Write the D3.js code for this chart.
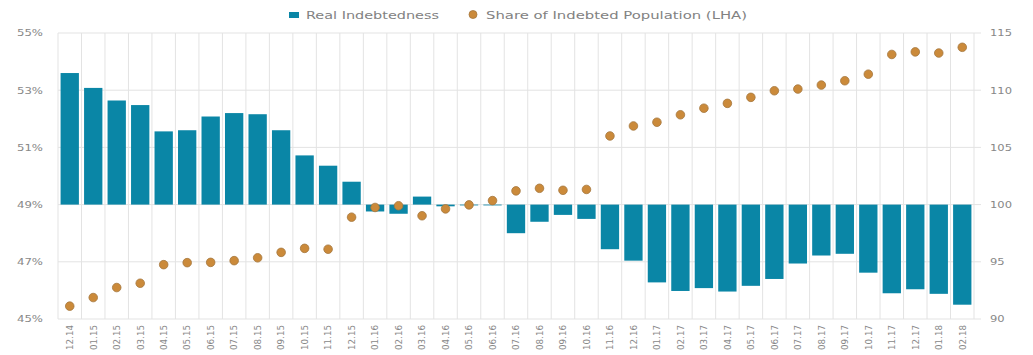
<!DOCTYPE html>
<html>
<head>
<meta charset="utf-8">
<script src="https://cdn.jsdelivr.net/npm/d3@7"></script>
<style>
  html, body { margin: 0; padding: 0; background: #fff; }
  svg { display: block; }
  text { font-family: "DejaVu Sans", Verdana, sans-serif; }
</style>
</head>
<body>
<svg id="chart" width="1033" height="355"></svg>
<script>
// Months (mm.yy)
const months = [
  "12.14",
  "01.15","02.15","03.15","04.15","05.15","06.15","07.15","08.15","09.15","10.15","11.15","12.15",
  "01.16","02.16","03.16","04.16","05.16","06.16","07.16","08.16","09.16","10.16","11.16","12.16",
  "01.17","02.17","03.17","04.17","05.17","06.17","07.17","08.17","09.17","10.17","11.17","12.17",
  "01.18","02.18"
];

// Real indebtedness index (right axis, base 100)
const realIndebtedness = [
  111.5,
  110.2, 109.1, 108.7, 106.4, 106.5, 107.7, 108.0, 107.9, 106.5, 104.3, 103.4, 102.0,
  99.4, 99.2, 100.7, 99.85, 100.0, 100.0, 97.5, 98.5, 99.1, 98.75, 96.1, 95.1,
  93.2, 92.45, 92.7, 92.4, 92.9, 93.5, 94.85, 95.55, 95.7, 94.05, 92.25, 92.6,
  92.2, 91.25
];

// Share of indebted population, % (left axis)
const indebtedShare = [
  45.45,
  45.75, 46.1, 46.25, 46.9, 46.97, 46.98, 47.04, 47.14, 47.33, 47.47, 47.44, 48.56,
  48.9, 48.96, 48.61, 48.85, 48.99, 49.14, 49.48, 49.57, 49.5, 49.53, 51.4, 51.75,
  51.88, 52.14, 52.37, 52.54, 52.75, 52.98, 53.04, 53.18, 53.33, 53.56, 54.25, 54.34,
  54.3, 54.5
];

const leftTicks = [45, 47, 49, 51, 53, 55];
const rightTicks = [90, 95, 100, 105, 110, 115];

const seriesNames = ["Real Indebtedness", "Share of Indebted Population (LHA)"];

const barColor = "#0a86a6";
const dotFill = "#cb8a3a";
const dotStroke = "#a4773f";
const gridColor = "#e3e3e3";
const labelColor = "#888888";
const legendColor = "#828282";

const plot = { left: 58, right: 974, top: 33, bottom: 319 };

const svg = d3.select("#chart");

// Widen text glyphs horizontally by a factor
function widen(sel, factor) {
  sel.each(function () {
    const w = this.getComputedTextLength();
    d3.select(this).attr("textLength", w * factor).attr("lengthAdjust", "spacingAndGlyphs");
  });
}

const x = d3.scaleBand()
  .domain(months)
  .range([plot.left, plot.right])
  .paddingInner(0.22)
  .paddingOuter(0.11);

const yLeft = d3.scaleLinear().domain([45, 55]).range([plot.bottom, plot.top]);
const yRight = d3.scaleLinear().domain([90, 115]).range([plot.bottom, plot.top]);

// Horizontal gridlines (shared by both axes), extended slightly past the right edge
svg.append("g")
  .selectAll("line")
  .data(leftTicks)
  .join("line")
  .attr("x1", plot.left)
  .attr("x2", plot.right + 7)
  .attr("y1", d => yLeft(d))
  .attr("y2", d => yLeft(d))
  .attr("stroke", gridColor)
  .attr("stroke-width", 1);

// Vertical gridlines between months
const step = x.step();
const boundaries = months.map(m => x(m) - step * x.paddingInner() / 2);
boundaries.push(plot.right);
boundaries[0] = plot.left;
svg.append("g")
  .selectAll("line")
  .data(boundaries)
  .join("line")
  .attr("x1", d => d)
  .attr("x2", d => d)
  .attr("y1", plot.top)
  .attr("y2", plot.bottom)
  .attr("stroke", gridColor)
  .attr("stroke-width", 1);

// Bars around the 100 baseline
svg.append("g")
  .selectAll("rect")
  .data(months.map((m, i) => ({ m, v: realIndebtedness[i] })))
  .join("rect")
  .attr("x", d => x(d.m))
  .attr("width", x.bandwidth())
  .attr("y", d => Math.min(yRight(d.v), yRight(100)))
  .attr("height", d => Math.max(0.8, Math.abs(yRight(d.v) - yRight(100))))
  .attr("fill", barColor);

// Dots for share of indebted population
svg.append("g")
  .selectAll("circle")
  .data(months.map((m, i) => ({ m, v: indebtedShare[i] })))
  .join("circle")
  .attr("cx", d => x(d.m) + x.bandwidth() / 2)
  .attr("cy", d => yLeft(d.v))
  .attr("r", 4.3)
  .attr("fill", dotFill)
  .attr("stroke", dotStroke)
  .attr("stroke-width", 0.8);

// Left axis (percent)
const leftAxis = d3.axisLeft(yLeft).tickValues(leftTicks).tickFormat(d => d + "%").tickSize(0).tickPadding(15);
const gL = svg.append("g").attr("transform", `translate(${plot.left},0)`).call(leftAxis);
gL.select(".domain").remove();
gL.selectAll("text").attr("fill", labelColor).attr("font-size", 9).call(widen, 1.3);

// Right axis (index)
const rightAxis = d3.axisRight(yRight).tickValues(rightTicks).tickSize(0).tickPadding(16);
const gR = svg.append("g").attr("transform", `translate(${plot.right},0)`).call(rightAxis);
gR.select(".domain").remove();
gR.selectAll("text").attr("fill", labelColor).attr("font-size", 9).call(widen, 1.28);

// Category axis with rotated month labels
const bottomAxis = d3.axisBottom(x).tickSize(0).tickPadding(0);
const gB = svg.append("g").attr("transform", `translate(0,${plot.bottom})`).call(bottomAxis);
gB.select(".domain").remove();
gB.selectAll("text")
  .attr("fill", labelColor)
  .attr("font-size", 9)
  .attr("text-anchor", "end")
  .attr("dy", null)
  .attr("y", 0)
  .attr("transform", "translate(3.3,6) rotate(-90)");
gB.selectAll("text").call(widen, 0.97);

// Legend
const legend = svg.append("g").attr("font-size", 10);
legend.append("rect").attr("x", 289).attr("y", 12).attr("width", 10).attr("height", 6).attr("fill", barColor);
legend.append("text").attr("x", 306).attr("y", 18.5).attr("fill", legendColor).text(seriesNames[0])
  .attr("textLength", 133).attr("lengthAdjust", "spacingAndGlyphs");
legend.append("circle").attr("cx", 473).attr("cy", 14.5).attr("r", 4).attr("fill", dotFill).attr("stroke", dotStroke).attr("stroke-width", 0.8);
legend.append("text").attr("x", 486).attr("y", 18.5).attr("fill", legendColor).text(seriesNames[1])
  .attr("textLength", 261).attr("lengthAdjust", "spacingAndGlyphs");
</script>
</body>
</html>
